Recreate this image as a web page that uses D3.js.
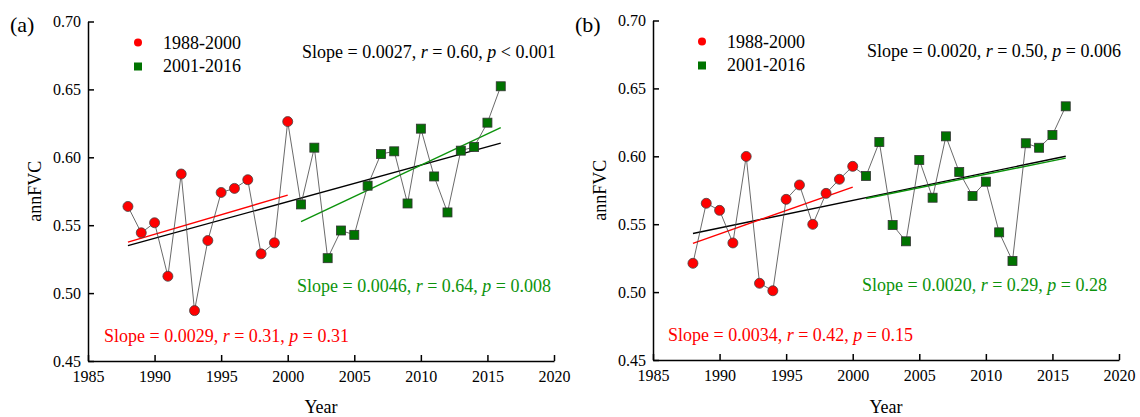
<!DOCTYPE html>
<html lang="en">
<head>
    <meta charset="UTF-8">
    <title>annFVC</title>
    <script src="https://cdn.jsdelivr.net/npm/d3@7/dist/d3.min.js"></script>
    <style>
        body { margin: 0; background: white; }
        svg { font-family: "Liberation Serif", "Times New Roman", serif; }
    </style>
</head>
<body>

<script>

    var years = d3.range(1988, 2017);
    var breakYear = 2000;

    // annFVC values
    var fvcA = [0.5638, 0.5444, 0.5518, 0.5124, 0.5877, 0.4871, 0.5387, 0.5741, 0.5771, 0.5835, 0.5289, 0.5370, 0.6263,
        0.5653, 0.6071, 0.5257, 0.5461, 0.5429, 0.5791, 0.6024, 0.6044, 0.5660, 0.6211, 0.5859, 0.5594, 0.6049, 0.6076, 0.6255, 0.6523];
    var fvcB = [0.5212, 0.5654, 0.5602, 0.5362, 0.5999, 0.5065, 0.5010, 0.5683, 0.5789, 0.5499, 0.5727, 0.5831, 0.5926,
        0.5855, 0.6105, 0.5494, 0.5374, 0.5973, 0.5695, 0.6147, 0.5884, 0.5708, 0.5813, 0.5440, 0.5229, 0.6096, 0.6063, 0.6157, 0.6368];

    var xTicks = [1985, 1990, 1995, 2000, 2005, 2010, 2015, 2020];
    var yTicks = [0.45, 0.50, 0.55, 0.60, 0.65, 0.70];
    var legendLabels = ["1988-2000", "2001-2016"];

    // [slope, r, p-text] for all / early / late
    var statsA = {all: ["0.0027", "0.60", "< 0.001"], early: ["0.0029", "0.31", "= 0.31"], late: ["0.0046", "0.64", "= 0.008"]};
    var statsB = {all: ["0.0020", "0.50", "= 0.006"], early: ["0.0034", "0.42", "= 0.15"], late: ["0.0020", "0.29", "= 0.28"]};

    var red = "#ff0000";
    var green = "#0c930c";
    var squareFill = "#007300";

    var width = 1140, height = 417;
    var svg = d3.select("body").append("svg")
        .attr("width", width)
        .attr("height", height);

    function fit(pts) {
        var mx = d3.mean(pts, d => d[0]), my = d3.mean(pts, d => d[1]);
        var sxy = d3.sum(pts, d => (d[0] - mx) * (d[1] - my));
        var sxx = d3.sum(pts, d => (d[0] - mx) * (d[0] - mx));
        var b = sxy / sxx;
        var x0 = d3.min(pts, d => d[0]), x1 = d3.max(pts, d => d[0]);
        return [[x0, my + b * (x0 - mx)], [x1, my + b * (x1 - mx)]];
    }

    function statText(g, x, y, color, s) {
        var t = g.append("text")
            .attr("x", x).attr("y", y)
            .attr("font-size", "18px")
            .attr("fill", color);
        t.append("tspan").text("Slope = " + s[0] + ", ");
        t.append("tspan").attr("font-style", "italic").text("r");
        t.append("tspan").text(" = " + s[1] + ", ");
        t.append("tspan").attr("font-style", "italic").text("p");
        t.append("tspan").text(" " + s[2]);
    }

    function panel(opt) {
        var g = svg.append("g");
        var x = d3.scaleLinear().domain([1985, 2020]).range([opt.left, opt.left + 466]);
        var y = d3.scaleLinear().domain([0.45, 0.70]).range([opt.bottom, opt.bottom - 339.5]);

        var pts = years.map((yr, i) => [yr, opt.values[i]]);
        var early = pts.filter(d => d[0] <= breakYear);
        var late = pts.filter(d => d[0] > breakYear);

        var line = d3.line().x(d => x(d[0])).y(d => y(d[1]));

        // axes, ticks pointing inward
        var xa = g.append("g")
            .attr("transform", "translate(0," + opt.bottom + ")")
            .call(d3.axisBottom(x).tickValues(xTicks).tickFormat(d3.format("d"))
                .tickSizeInner(-6).tickSizeOuter(0).tickPadding(10));
        var ya = g.append("g")
            .attr("transform", "translate(" + opt.left + ",0)")
            .call(d3.axisLeft(y).tickValues(yTicks).tickFormat(d3.format(".2f"))
                .tickSizeInner(-6).tickSizeOuter(0).tickPadding(7));
        [xa, ya].forEach(function (a) {
            a.selectAll("path, line").attr("stroke", "#000").attr("stroke-width", 1.5);
            a.selectAll("text").attr("font-size", "16px").attr("fill", "#000")
                .attr("font-family", "Liberation Serif, Times New Roman, serif");
        });

        g.append("text")
            .attr("x", opt.left - 78).attr("y", 32)
            .attr("font-size", "22px")
            .text(opt.tag);

        g.append("text")
            .attr("x", opt.left + 233).attr("y", 413)
            .attr("text-anchor", "middle")
            .attr("font-size", "18px")
            .text("Year");

        g.append("text")
            .attr("transform", "translate(" + (opt.left - 47) + "," + y(0.575) + ") rotate(-90)")
            .attr("text-anchor", "middle")
            .attr("font-size", "18px")
            .text("annFVC");

        // regression lines
        [[pts, "#000"], [early, red], [late, green]].forEach(function (s) {
            g.append("path")
                .datum(fit(s[0]))
                .attr("fill", "none")
                .attr("stroke", s[1])
                .attr("stroke-width", 1.4)
                .attr("d", line);
        });

        // connecting line
        g.append("path")
            .datum(pts)
            .attr("fill", "none")
            .attr("stroke", "#444")
            .attr("stroke-width", 0.8)
            .attr("d", line);

        g.selectAll(".dot")
            .data(early)
            .enter().append("circle")
            .attr("cx", d => x(d[0]))
            .attr("cy", d => y(d[1]))
            .attr("r", 5)
            .attr("fill", red)
            .attr("stroke", "#444")
            .attr("stroke-width", 0.8);

        g.selectAll(".sq")
            .data(late)
            .enter().append("rect")
            .attr("x", d => x(d[0]) - 4.5)
            .attr("y", d => y(d[1]) - 4.5)
            .attr("width", 9)
            .attr("height", 9)
            .attr("fill", squareFill)
            .attr("stroke", "#333")
            .attr("stroke-width", 0.8);

        // legend
        var lg = g.append("g");
        lg.append("circle")
            .attr("cx", opt.left + opt.legendDx).attr("cy", opt.legendY)
            .attr("r", 4).attr("fill", red);
        lg.append("rect")
            .attr("x", opt.left + opt.legendDx - 4).attr("y", opt.legendY + 20)
            .attr("width", 8).attr("height", 8)
            .attr("fill", squareFill);
        legendLabels.forEach(function (lab, i) {
            lg.append("text")
                .attr("x", opt.left + opt.legendDx + 25)
                .attr("y", opt.legendY + 6.5 + i * 23)
                .attr("font-size", "18px")
                .text(lab);
        });

        statText(g, opt.allX, opt.allY, "#000", opt.stats.all);
        statText(g, opt.lateX, opt.lateY, green, opt.stats.late);
        statText(g, opt.earlyX, opt.earlyY, red, opt.stats.early);
    }

    panel({
        tag: "(a)", left: 88, bottom: 361, values: fvcA, stats: statsA,
        legendDx: 50, legendY: 42.5,
        allX: 302, allY: 58, lateX: 297, lateY: 292, earlyX: 104, earlyY: 342
    });
    panel({
        tag: "(b)", left: 653, bottom: 360, values: fvcB, stats: statsB,
        legendDx: 49, legendY: 41.5,
        allX: 867, allY: 57, lateX: 862, lateY: 291, earlyX: 668, earlyY: 341
    });

</script>

</body>
</html>
